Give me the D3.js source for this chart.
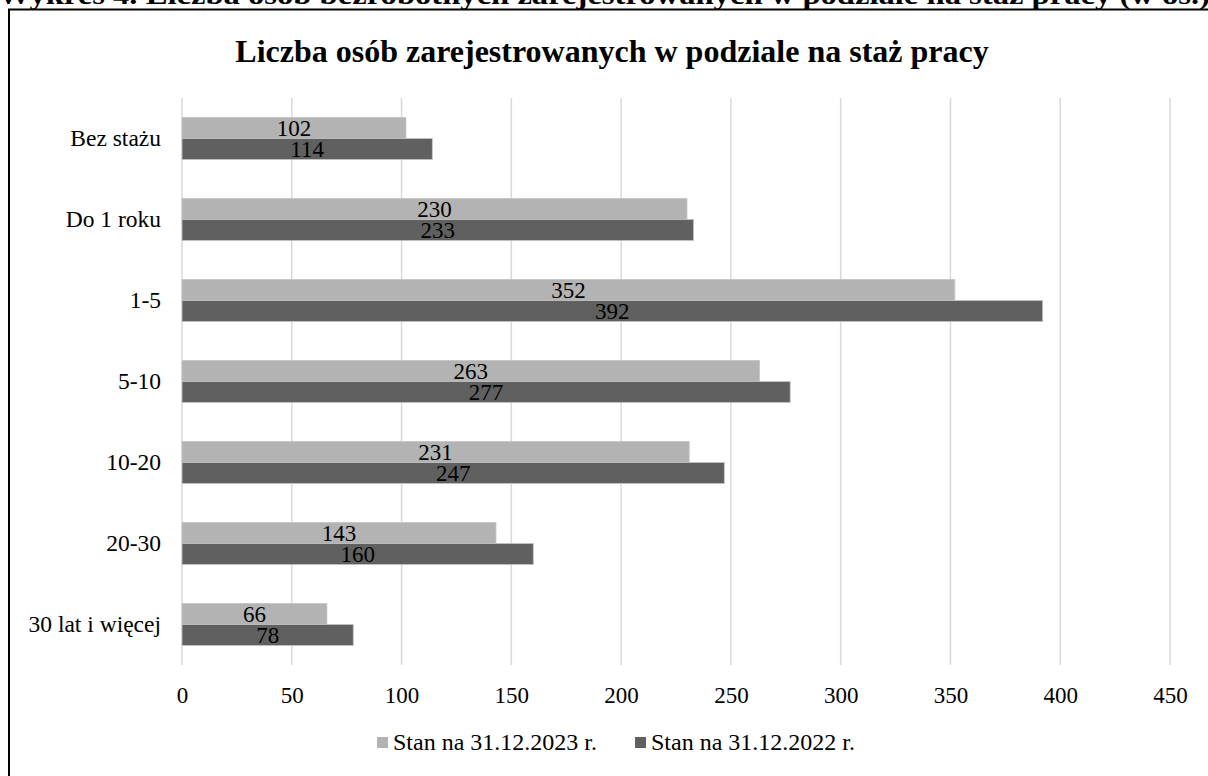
<!DOCTYPE html>
<html><head><meta charset="utf-8">
<script src="https://cdn.jsdelivr.net/npm/d3@7"></script>
<style>
html,body{margin:0;padding:0;background:#fff;overflow:hidden}
svg text{font-family:"Liberation Serif","Times New Roman",serif !important;}
</style></head>
<body>
<svg id="chart" width="1208" height="776"></svg>
<script>
const categories = ["Bez stażu","Do 1 roku","1-5","5-10","10-20","20-30","30 lat i więcej"];
const series2023 = [102,230,352,263,231,143,66];
const series2022 = [114,233,392,277,247,160,78];
const seriesNames = ["Stan na 31.12.2023 r.","Stan na 31.12.2022 r."];
const xTicks = [0,50,100,150,200,250,300,350,400,450];
const colors = ["#b3b3b3","#606060"];

const svg = d3.select("#chart");
// outer header (cut off at the top, as in the reference)
svg.append("text").attr("x",604).attr("y",4).attr("text-anchor","middle")
  .attr("font-size",28).attr("font-weight","bold")
  .attr("textLength",1212).attr("lengthAdjust","spacingAndGlyphs")
  .text("Wykres 4. Liczba osób bezrobotnych zarejestrowanych w podziale na staż pracy (w os.)");
// frame
svg.append("rect").attr("x",9).attr("y",9.5).attr("width",1300).attr("height",900)
  .attr("fill","none").attr("stroke","#000").attr("stroke-width",2);

svg.append("text").attr("x",612).attr("y",62).attr("text-anchor","middle")
  .attr("font-size",32).attr("font-weight","bold")
  .text("Liczba osób zarejestrowanych w podziale na staż pracy");

const x = d3.scaleLinear().domain([0,450]).range([182,1170]);
const y = d3.scaleBand().domain(categories).range([98,665]).paddingInner(0.48).paddingOuter(0.24);
const inner = d3.scaleBand().domain([0,1]).range([0,y.bandwidth()]);

// gridlines
svg.append("g").selectAll("line").data(xTicks).join("line")
  .attr("x1",d=>x(d)).attr("x2",d=>x(d)).attr("y1",98).attr("y2",665)
  .attr("stroke","#d9d9d9").attr("stroke-width",1.5);

const data = categories.map((c,i)=>({c, vals:[series2023[i],series2022[i]]}));
const g = svg.append("g");
data.forEach(d=>{
  d.vals.forEach((v,k)=>{
    const yy = y(d.c)+inner(k);
    g.append("rect").attr("x",x(0)).attr("y",yy).attr("width",x(v)-x(0)).attr("height",inner.bandwidth())
      .attr("fill",colors[k]).attr("stroke","#c4c4c4").attr("stroke-width",0.8);
    g.append("text").attr("x",(x(0)+x(v))/2).attr("y",yy+inner.bandwidth()/2).attr("dy","0.35em")
      .attr("text-anchor","middle").attr("font-size",23).attr("fill","#000").text(v);
  });
});

// y labels
const yAxis = d3.axisLeft(y).tickSize(0).tickPadding(0);
const ya = svg.append("g").attr("transform","translate(161,0)").call(yAxis);
ya.select(".domain").remove();
ya.attr("font-family",null).attr("font-size",null);
ya.selectAll("text").attr("font-size",23.5).attr("fill","#000");

// x axis
const xAxis = d3.axisBottom(x).tickValues(xTicks).tickSize(0).tickPadding(0);
const xa = svg.append("g").attr("transform","translate(0,687)").call(xAxis);
xa.select(".domain").remove();
xa.attr("font-family",null).attr("font-size",null);
xa.selectAll("text").attr("font-size",23).attr("fill","#000");

// legend
const legX = [377,635];
seriesNames.forEach((n,k)=>{
  svg.append("rect").attr("x",legX[k]).attr("y",737).attr("width",11).attr("height",11).attr("fill",colors[k]);
  svg.append("text").attr("x",legX[k]+16).attr("y",742).attr("dy","0.35em").attr("font-size",24).text(n);
});
</script>
</body></html>
